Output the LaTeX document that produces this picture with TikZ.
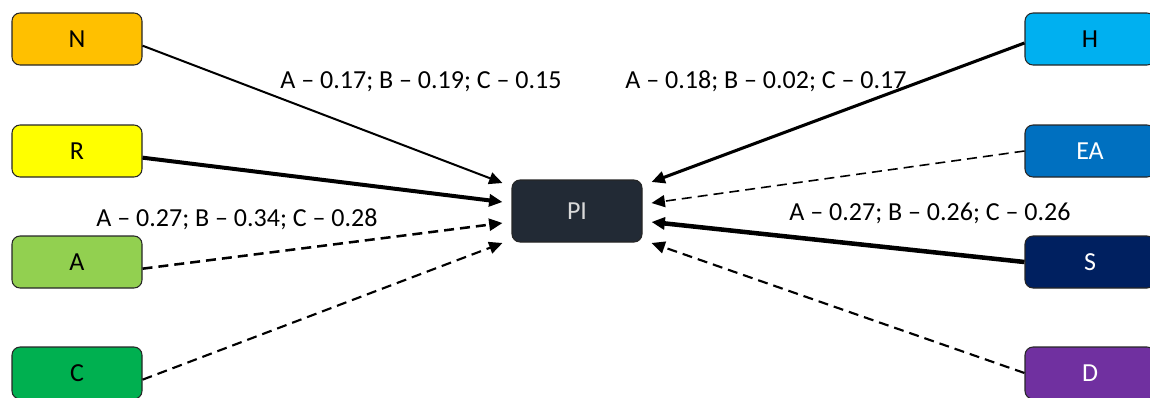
\documentclass[tikz,border=0pt]{standalone}
\usepackage{fontspec}
\setmainfont{Carlito}
\usetikzlibrary{arrows.meta}
\definecolor{colorN}{HTML}{FFC000}
\definecolor{colorR}{HTML}{FFFF00}
\definecolor{colorA}{HTML}{92D050}
\definecolor{colorC}{HTML}{00B050}
\definecolor{colorH}{HTML}{00B0F0}
\definecolor{colorEA}{HTML}{0070C0}
\definecolor{colorS}{HTML}{002060}
\definecolor{colorD}{HTML}{7030A0}
\definecolor{colorPI}{HTML}{222A35}
\begin{document}
\begin{tikzpicture}[x = 0.75pt, y = -0.75pt, font = \fontsize{19.5}{22}\selectfont,
  box/.style = {draw = black!85, line width = 0.8pt, rounded corners = 6pt, minimum width = 97.5pt, minimum height = 39pt, inner sep = 0pt},
  link/.style = {-{Triangle[length = 10pt, width = 9pt]}},
  weight/.style = {anchor = base}]

\useasboundingbox (0, 0) rectangle (1150, 397);
\clip (0, 0) rectangle (1150, 397);

\node [box, fill = colorN] (N) at (77, 39) {N};
\node [box, fill = colorR] (R) at (77, 151) {R};
\node [box, fill = colorA] (A) at (77, 262) {A};
\node [box, fill = colorC] (C) at (77, 373) {C};
\node [box, fill = colorH] (H) at (1090, 39) {H};
\node [box, fill = colorEA, text = white] (EA) at (1090, 151) {EA};
\node [box, fill = colorS, text = white] (S) at (1090, 262) {S};
\node [box, fill = colorD, text = white] (D) at (1090, 373) {D};
\node [box, fill = colorPI, text = black!15, minimum height = 46.5pt] (PI) at (577, 211) {PI};

\coordinate (inN) at ([shift = {(-9, -28)}] PI.west);
\coordinate (inR) at ([shift = {(-9, -9)}] PI.west);
\coordinate (inA) at ([shift = {(-9, 12)}] PI.west);
\coordinate (inC) at ([shift = {(-9, 32)}] PI.west);
\coordinate (inH) at ([shift = {(9, -29)}] PI.east);
\coordinate (inEA) at ([shift = {(9, -8)}] PI.east);
\coordinate (inS) at ([shift = {(9, 11)}] PI.east);
\coordinate (inD) at ([shift = {(9, 32)}] PI.east);

\draw [link, line width = 1.5pt] ([yshift = -5]N.east) -- (inN);
\draw [link, line width = 3pt] ([yshift = -5]R.east) -- (inR);
\draw [link, line width = 1.9pt, dash pattern = on 7.5pt off 4.5pt] ([yshift = -5]A.east) -- (inA);
\draw [link, line width = 1.6pt, dash pattern = on 7.5pt off 4.5pt] ([yshift = -5]C.east) -- (inC);
\draw [link, line width = 2.3pt] ([yshift = -3]H.west) -- (inH);
\draw [link, line width = 1.2pt, dash pattern = on 7.5pt off 4.5pt] (EA.west) -- (inEA);
\draw [link, line width = 3.4pt] (S.west) -- (inS);
\draw [link, line width = 1.6pt, dash pattern = on 7.5pt off 4.5pt] (D.west) -- (inD);

\node [weight] (wN) at (421, 88) {A – 0.17; B – 0.19; C – 0.15};
\node [weight] (wH) at (766, 88) {A – 0.18; B – 0.02; C – 0.17};
\node [weight] (wA) at (237, 226) {A – 0.27; B – 0.34; C – 0.28};
\node [weight] (wS) at (930, 220) {A – 0.27; B – 0.26; C – 0.26};

\end{tikzpicture}
\end{document}
